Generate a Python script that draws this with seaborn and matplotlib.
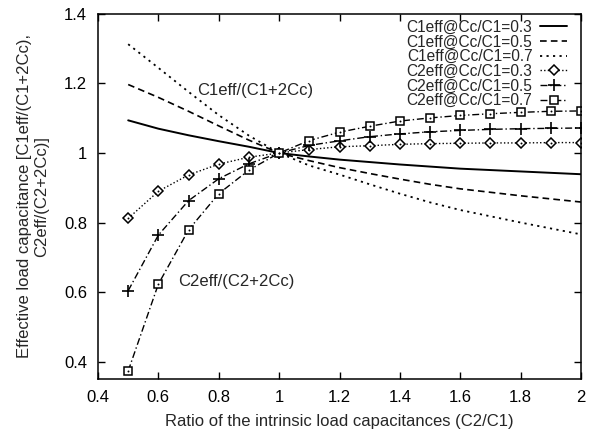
import matplotlib
matplotlib.use("Agg")
import matplotlib.pyplot as plt
import seaborn as sns
import pandas as pd

# ---- data ----
ratio = [0.5, 0.6, 0.7, 0.8, 0.9, 1.0, 1.1, 1.2, 1.3, 1.4, 1.5, 1.6, 1.7, 1.8, 1.9, 2.0]

c1eff_03 = [1.094, 1.070, 1.051, 1.034, 1.018, 1.000, 0.990, 0.981, 0.974, 0.967,
            0.961, 0.955, 0.951, 0.947, 0.943, 0.939]
c1eff_05 = [1.197, 1.160, 1.120, 1.078, 1.037, 1.000, 0.978, 0.958, 0.941, 0.925,
            0.910, 0.897, 0.887, 0.877, 0.868, 0.859]
c1eff_07 = [1.313, 1.245, 1.176, 1.109, 1.050, 1.000, 0.964, 0.938, 0.910, 0.883,
            0.858, 0.836, 0.818, 0.800, 0.783, 0.766]

c2eff_03 = [0.812, 0.890, 0.937, 0.968, 0.988, 1.000, 1.010, 1.018, 1.021, 1.025,
            1.027, 1.028, 1.029, 1.029, 1.030, 1.030]
c2eff_05 = [0.604, 0.764, 0.863, 0.926, 0.969, 1.000, 1.022, 1.035, 1.047, 1.055,
            1.061, 1.065, 1.068, 1.070, 1.071, 1.072]
c2eff_07 = [0.373, 0.623, 0.779, 0.883, 0.951, 1.000, 1.036, 1.060, 1.077, 1.092,
            1.101, 1.108, 1.113, 1.117, 1.120, 1.121]

labels = ["C1eff@Cc/C1=0.3", "C1eff@Cc/C1=0.5", "C1eff@Cc/C1=0.7",
          "C2eff@Cc/C1=0.3", "C2eff@Cc/C1=0.5", "C2eff@Cc/C1=0.7"]

xticks = [0.4, 0.6, 0.8, 1.0, 1.2, 1.4, 1.6, 1.8, 2.0]
xticklabels = ["0.4", "0.6", "0.8", "1", "1.2", "1.4", "1.6", "1.8", "2"]
yticks = [0.4, 0.6, 0.8, 1.0, 1.2, 1.4]
yticklabels = ["0.4", "0.6", "0.8", "1", "1.2", "1.4"]

xlabel = "Ratio of the intrinsic load capacitances (C2/C1)"
ylabel = "Effective load capacitance [C1eff/(C1+2Cc),\nC2eff/(C2+2Cc)]"
ann1 = "C1eff/(C1+2Cc)"
ann2 = "C2eff/(C2+2Cc)"

# ---- plotting ----
sns.set_style("ticks")
plt.rcParams["font.family"] = ["Liberation Sans", "DejaVu Sans"]
FS = 12

fig = plt.figure(figsize=(5.95, 4.32), dpi=100)
ax = fig.add_axes([0.1647, 0.1227, 0.8118, 0.845])

df = pd.DataFrame({"ratio": ratio,
                   "c1_03": c1eff_03, "c1_05": c1eff_05, "c1_07": c1eff_07,
                   "c2_03": c2eff_03, "c2_05": c2eff_05, "c2_07": c2eff_07})

styles = [
    ("c1_03", dict(linestyle="-", linewidth=1.4)),
    ("c1_05", dict(linestyle=(0, (4, 2.5)), linewidth=1.2)),
    ("c1_07", dict(linestyle=(0, (1.2, 2.4)), linewidth=1.3)),
    ("c2_03", dict(linestyle=(0, (1, 1.6)), linewidth=1.0, marker="D", markersize=4.8,
                   markerfacecolor="white", markeredgecolor="black", markeredgewidth=1.1)),
    ("c2_05", dict(linestyle=(0, (5, 2, 1, 2)), linewidth=1.0, marker="+", markersize=8,
                   markeredgewidth=1.2, markeredgecolor="black")),
    ("c2_07", dict(linestyle=(0, (5, 2, 1, 2)), linewidth=1.0, marker="s", markersize=6,
                   markerfacecolor="white", markeredgecolor="black", markeredgewidth=1.1)),
]
for (col, kw), lab in zip(styles, labels):
    sns.lineplot(data=df, x="ratio", y=col, ax=ax, color="black", label=lab, **kw)

# center dots of open markers
for col in ["c2_03", "c2_07"]:
    sns.scatterplot(data=df, x="ratio", y=col, ax=ax, color="black", s=2,
                    linewidth=0, legend=False, zorder=5)

ax.set_xlim(0.4, 2.0)
ax.set_ylim(0.35, 1.4)
ax.set_xticks(xticks)
ax.set_xticklabels(xticklabels)
ax.set_yticks(yticks)
ax.set_yticklabels(yticklabels)
ax.tick_params(direction="in", top=True, right=True, length=5, width=1,
               labelsize=FS, colors="black", pad=8)
for sp in ax.spines.values():
    sp.set_visible(True)
    sp.set_color("black")
    sp.set_linewidth(1.1)

ax.set_xlabel(xlabel, fontsize=FS)
ax.set_ylabel(ylabel, fontsize=FS)
ax.xaxis.set_label_coords(0.5, -0.095)
ax.yaxis.set_label_coords(-0.135, 0.5)
ax.yaxis.label.set_va("center")

ax.text(0.73, 1.18, ann1, fontsize=FS, va="center", ha="left")
ax.text(0.665, 0.629, ann2, fontsize=FS, va="center", ha="left")

leg = ax.legend(loc="upper right", bbox_to_anchor=(0.972, 0.984), frameon=False,
                markerfirst=False, fontsize=11.2, labelspacing=-0.02,
                handlelength=1.75, handletextpad=0.5, borderaxespad=0,
                borderpad=0, numpoints=1)
for t in leg.get_texts():
    t.set_ha("right")

fig.savefig("out.png", dpi=100)
